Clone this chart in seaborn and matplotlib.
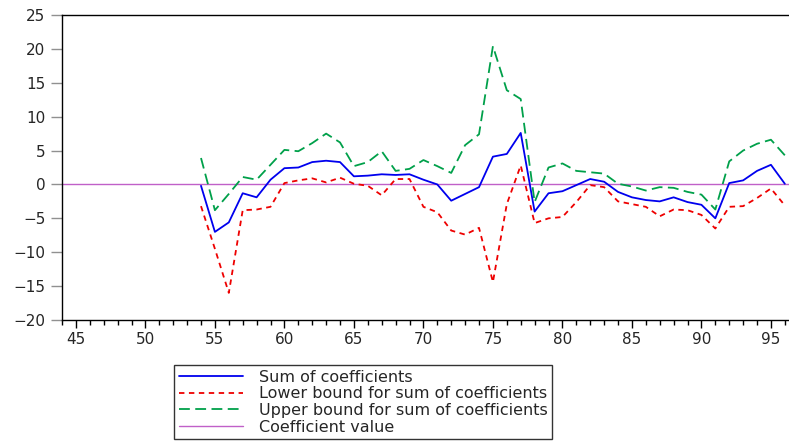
import seaborn as sns
import matplotlib.pyplot as plt

# Values (annual, 1954-1996)
years = list(range(54, 97))

sum_coef = [-0.2, -7.0, -5.6, -1.3, -1.9, 0.7, 2.4, 2.5, 3.3, 3.5,
            3.3, 1.2, 1.3, 1.5, 1.4, 1.5, 0.7, 0.0, -2.4, -1.4,
            -0.4, 4.1, 4.5, 7.6, -4.0, -1.3, -1.0, -0.1, 0.8, 0.4,
            -1.1, -1.9, -2.3, -2.5, -1.9, -2.6, -3.0, -5.0, 0.2, 0.6,
            2.0, 2.9, 0.1]

lower_bound = [-3.2, -9.5, -16.0, -3.8, -3.7, -3.3, 0.2, 0.6, 0.9, 0.3,
               1.0, 0.1, -0.2, -1.6, 0.8, 0.8, -3.3, -4.1, -6.8, -7.4,
               -6.4, -14.4, -2.9, 2.8, -5.7, -5.0, -4.8, -2.6, -0.1, -0.4,
               -2.5, -2.9, -3.3, -4.7, -3.7, -3.8, -4.5, -6.5, -3.3, -3.2,
               -2.0, -0.6, -3.1]

upper_bound = [3.9, -3.8, -1.4, 1.1, 0.7, 2.9, 5.1, 4.9, 6.1, 7.5,
               6.2, 2.7, 3.3, 4.9, 2.0, 2.3, 3.6, 2.7, 1.7, 5.8,
               7.4, 20.4, 13.9, 12.6, -2.6, 2.5, 3.1, 2.0, 1.8, 1.6,
               0.1, -0.3, -0.9, -0.4, -0.5, -1.1, -1.5, -3.7, 3.4, 5.0,
               6.0, 6.6, 4.3]

coef_value = 0.0

labels = ["Sum of coefficients",
          "Lower bound for sum of coefficients",
          "Upper bound for sum of coefficients",
          "Coefficient value"]

x_ticks = list(range(45, 100, 5))
y_ticks = list(range(-20, 30, 5))

sns.set_style("ticks")
plt.rcParams['font.family'] = ['DejaVu Sans']

fig = plt.figure(figsize=(7.89, 4.43), dpi=100)
ax = fig.add_axes([62 / 789, 1 - 320 / 443, 1 - 62 / 789, 305 / 443])

ax.axhline(coef_value, color='#C060C8', lw=1.0, label=labels[3], zorder=1)
sns.lineplot(x=years, y=sum_coef, ax=ax, color='#0000EE', lw=1.3,
             label=labels[0])
sns.lineplot(x=years, y=lower_bound, ax=ax, color='#EE0000', lw=1.3,
             linestyle=(0, (3, 2.5)), label=labels[1])
sns.lineplot(x=years, y=upper_bound, ax=ax, color='#00A04A', lw=1.3,
             linestyle=(0, (6, 3)), label=labels[2])

ax.set_xlim(44, 96.3)
ax.set_ylim(-20, 25)
ax.set_xticks(x_ticks)
ax.set_xticks(range(44, 97), minor=True)
ax.set_yticks(y_ticks)
ax.tick_params(axis='x', which='major', length=6, width=1, labelsize=11,
               pad=3, color='black')
ax.tick_params(axis='x', which='minor', length=3.5, width=1, color='black')
ax.tick_params(axis='y', length=8, width=1, labelsize=11, pad=4,
               color='#909090')
for side in ['left', 'bottom', 'top']:
    ax.spines[side].set_color('black')
    ax.spines[side].set_linewidth(1.0)
ax.spines['right'].set_visible(False)
ax.set_xlabel('')
ax.set_ylabel('')

handles, _ = ax.get_legend_handles_labels()
order = [1, 2, 3, 0]
ax.get_legend().remove()
leg = fig.legend([handles[i] for i in order], [labels[i - 1] if i else labels[3] for i in order],
                 loc='upper left', bbox_to_anchor=(174 / 789, 1 - 365 / 443),
                 fontsize=11.5, frameon=True, fancybox=False,
                 handlelength=4.0, handletextpad=1.0, labelspacing=0.1,
                 borderpad=0.3, borderaxespad=0)
leg.get_frame().set_edgecolor('black')
leg.get_frame().set_linewidth(1.0)

fig.savefig('out.png', dpi=100)
